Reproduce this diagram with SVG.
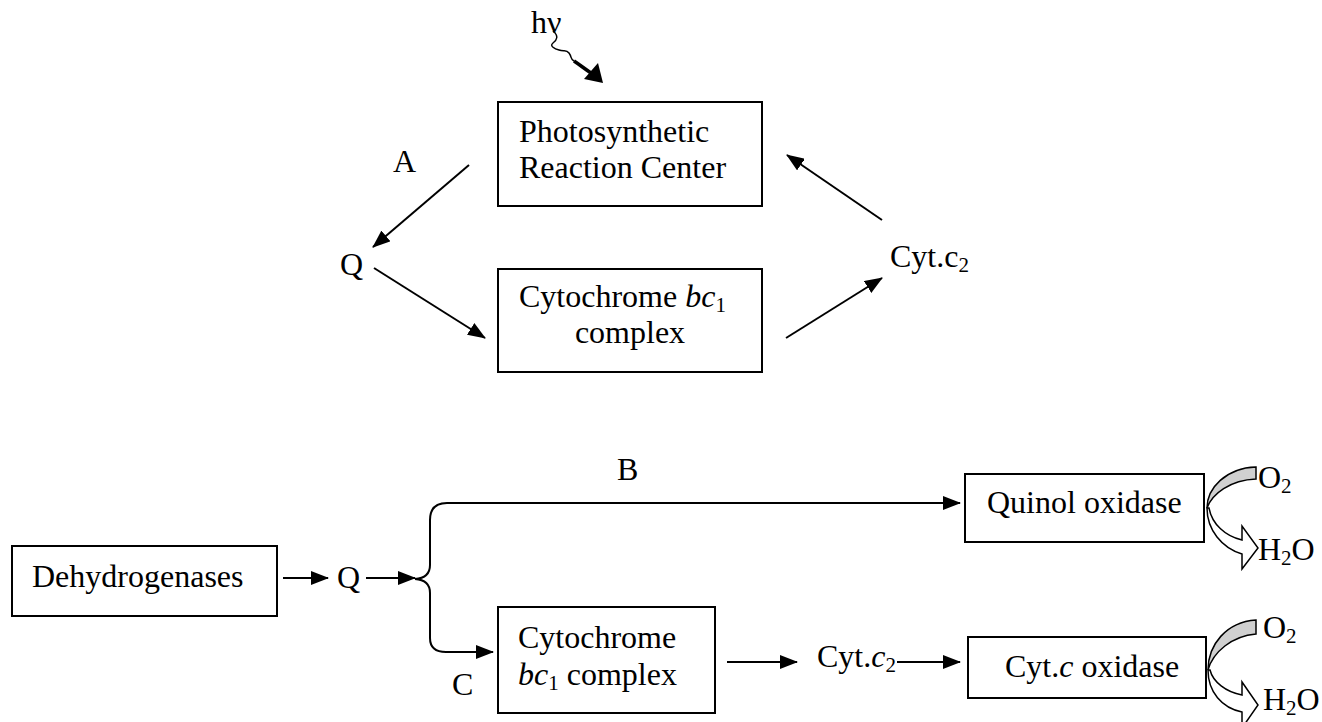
<svg xmlns="http://www.w3.org/2000/svg" width="1322" height="722" viewBox="0 0 1322 722">
<style>
text{font-family:"Liberation Serif","Times New Roman",serif;font-size:32px;fill:#000}
.it{font-style:italic}
.sub{font-size:21px}
.box{fill:#fff;stroke:#000;stroke-width:2}
.ln{fill:none;stroke:#000;stroke-width:2}
</style>
<defs>
<marker id="ah" markerWidth="18" markerHeight="14" refX="17" refY="7" orient="auto" markerUnits="userSpaceOnUse"><path d="M0,0 L18,7 L0,14 Z" fill="#000"/></marker>
</defs>
<rect width="1322" height="722" fill="#fff"/>

<g id="light">
<text x="531" y="33">hν</text>
<path d="M553,31 C559,36 557,40 553,43 C549,46 555,49 559,50 C564,52 566,49 569,53 C572,57 570,59 574,61" fill="none" stroke="#000" stroke-width="1.5"/>
<path d="M574,61 C580,65 585,69 591,73" fill="none" stroke="#000" stroke-width="3.5"/>
<polygon points="603,83 584,79 598,63" fill="#000"/>
</g>

<g id="prc">
<rect class="box" x="498" y="102" width="264" height="104"/>
<text x="519" y="142">Photosynthetic</text>
<text x="519" y="178">Reaction Center</text>
</g>

<g id="bc1top">
<rect class="box" x="498" y="269" width="264" height="103"/>
<text x="519" y="307">Cytochrome <tspan class="it">bc</tspan><tspan class="sub" dy="5">1</tspan></text>
<text x="630" y="343" text-anchor="middle">complex</text>
</g>

<g id="qtop"><text x="340" y="275">Q</text></g>
<g id="labelA"><text x="393" y="172">A</text></g>
<g id="cyttop"><text x="890" y="267">Cyt.c<tspan class="sub" dy="5">2</tspan></text></g>

<g id="dehyd">
<rect class="box" x="12" y="546" width="265" height="70"/>
<text x="32" y="587">Dehydrogenases</text>
</g>
<g id="qbot"><text x="337" y="588">Q</text></g>
<g id="labelB"><text x="617" y="480">B</text></g>
<g id="labelC"><text x="452" y="695">C</text></g>

<g id="quinol">
<rect class="box" x="965" y="474" width="239" height="68"/>
<text x="987" y="513">Quinol oxidase</text>
</g>

<g id="bc1bot">
<rect class="box" x="498" y="607" width="217" height="106"/>
<text x="518" y="648">Cytochrome</text>
<text x="518" y="685"><tspan class="it">bc</tspan><tspan class="sub" dy="5">1</tspan><tspan dy="-5"> complex</tspan></text>
</g>

<g id="cytbot"><text x="817" y="667">Cyt.<tspan class="it">c</tspan><tspan class="sub" dy="5">2</tspan></text></g>

<g id="cytox">
<rect class="box" x="968" y="637" width="238" height="61"/>
<text x="1005" y="677">Cyt.<tspan class="it">c</tspan> oxidase</text>
</g>

<g id="o2quinol">
<path d="M1256,467 C1226,468 1207,488 1207,508 C1212,494 1230,480 1256,479 Z" fill="#d0d0d0" stroke="#000" stroke-width="1.5"/>
<path d="M1207,508 C1207,530 1222,548 1242,554 L1242,569 L1258,548 L1242,526 L1242,540 C1225,536 1212,524 1209,508 Z" fill="#fff" stroke="#000" stroke-width="1.5"/>
<text x="1258" y="488">O<tspan class="sub" dy="5">2</tspan></text>
<text x="1258" y="560">H<tspan class="sub" dy="5">2</tspan><tspan dy="-5">O</tspan></text>
</g>

<g id="o2cytox">
<path d="M1256,620 C1226,622 1208,645 1208,670 C1213,652 1232,636 1256,634 Z" fill="#d0d0d0" stroke="#000" stroke-width="1.5"/>
<path d="M1208,670 C1208,692 1222,708 1242,712 L1242,728 L1258,705 L1242,682 L1242,695 C1226,692 1213,682 1210,670 Z" fill="#fff" stroke="#000" stroke-width="1.5"/>
<text x="1263" y="638">O<tspan class="sub" dy="5">2</tspan></text>
<text x="1263" y="710">H<tspan class="sub" dy="5">2</tspan><tspan dy="-5">O</tspan></text>
</g>

<g id="connectors">
<line class="ln" x1="469" y1="165" x2="373" y2="247" marker-end="url(#ah)"/>
<line class="ln" x1="374" y1="268" x2="485" y2="338" marker-end="url(#ah)"/>
<line class="ln" x1="786" y1="338" x2="882" y2="278" marker-end="url(#ah)"/>
<line class="ln" x1="882" y1="220" x2="787" y2="155" marker-end="url(#ah)"/>
<line class="ln" x1="283" y1="578" x2="328" y2="578" marker-end="url(#ah)"/>
<line class="ln" x1="366" y1="578" x2="415" y2="578" marker-end="url(#ah)"/>
<path class="ln" d="M415,579 Q430,578 430,565 L430,520 Q430,503 447,503 L960,503" marker-end="url(#ah)"/>
<path class="ln" d="M415,579 Q430,580 430,593 L430,638 Q430,652 446,652 L493,652" marker-end="url(#ah)"/>
<line class="ln" x1="727" y1="662" x2="797" y2="662" marker-end="url(#ah)"/>
<line class="ln" x1="897" y1="662" x2="960" y2="662" marker-end="url(#ah)"/>
</g>
</svg>
